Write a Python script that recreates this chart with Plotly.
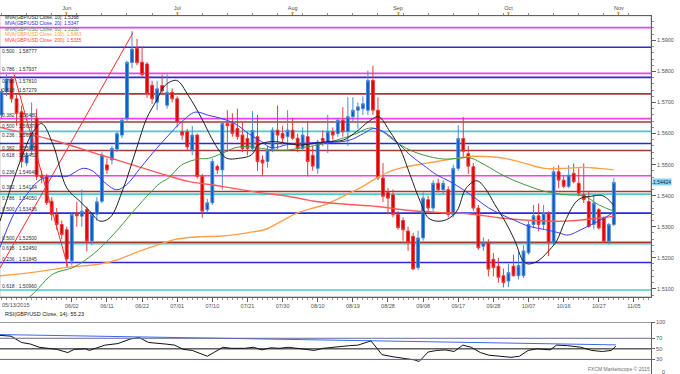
import plotly.graph_objects as go

# ---------------- data ----------------
bar_idx = list(range(123))
opens = [1.5660,1.5735,1.5775,1.5712,1.5670,1.5505,1.5545,1.5650,1.5465,1.5462,
         1.5382,1.5340,1.5307,1.5290,1.5190,1.5345,1.5334,1.5355,1.5254,1.5340,
         1.5382,1.5499,1.5515,1.5550,1.5595,1.5648,1.5829,1.5875,1.5830,1.5824,
         1.5755,1.5701,1.5755,1.5691,1.5733,1.5712,1.5606,1.5606,1.5547,1.5595,
         1.5462,1.5355,1.5377,1.5494,1.5483,1.5632,1.5632,1.5616,1.5595,1.5584,
         1.5552,1.5590,1.5515,1.5510,1.5552,1.5611,1.5600,1.5590,1.5611,1.5585,
         1.5552,1.5590,1.5530,1.5488,1.5584,1.5574,1.5606,1.5600,1.5643,1.5606,
         1.5654,1.5675,1.5680,1.5675,1.5771,1.5675,1.5457,1.5410,1.5403,1.5339,
         1.5320,1.5286,1.5269,1.5168,1.5264,1.5387,1.5360,1.5440,1.5419,1.5419,
         1.5339,1.5488,1.5584,1.5535,1.5493,1.5360,1.5237,1.5248,1.5195,1.5173,
         1.5142,1.5125,1.5173,1.5142,1.5142,1.5216,1.5307,1.5335,1.5307,1.5344,
         1.5248,1.5477,1.5450,1.5430,1.5472,1.5440,1.5403,1.5381,1.5307,1.5355,
         1.5328,1.5253,1.5307]
highs = [1.5745,1.5790,1.5785,1.5725,1.5690,1.5540,1.5700,1.5680,1.5480,1.5470,
         1.5395,1.5360,1.5320,1.5300,1.5345,1.5380,1.5420,1.5365,1.5345,1.5395,
         1.5540,1.5520,1.5560,1.5605,1.5650,1.5835,1.5930,1.5905,1.5880,1.5830,
         1.5770,1.5770,1.5790,1.5790,1.5745,1.5720,1.5640,1.5615,1.5625,1.5600,
         1.5470,1.5390,1.5520,1.5500,1.5640,1.5675,1.5665,1.5680,1.5640,1.5605,
         1.5672,1.5660,1.5530,1.5560,1.5620,1.5690,1.5625,1.5675,1.5650,1.5600,
         1.5620,1.5640,1.5560,1.5580,1.5610,1.5660,1.5620,1.5650,1.5685,1.5717,
         1.5717,1.5700,1.5720,1.5803,1.5818,1.5717,1.5505,1.5425,1.5420,1.5350,
         1.5330,1.5300,1.5280,1.5287,1.5410,1.5400,1.5450,1.5455,1.5450,1.5430,
         1.5500,1.5627,1.5653,1.5560,1.5505,1.5370,1.5265,1.5260,1.5215,1.5200,
         1.5165,1.5180,1.5210,1.5220,1.5240,1.5318,1.5370,1.5375,1.5370,1.5350,
         1.5493,1.5498,1.5466,1.5498,1.5504,1.5488,1.5504,1.5413,1.5403,1.5360,
         1.5333,1.5312,1.5456]
lows = [1.5650,1.5720,1.5700,1.5625,1.5490,1.5495,1.5530,1.5450,1.5440,1.5370,
        1.5320,1.5290,1.5260,1.5170,1.5175,1.5300,1.5300,1.5220,1.5240,1.5320,
        1.5375,1.5470,1.5500,1.5540,1.5585,1.5640,1.5810,1.5820,1.5780,1.5715,
        1.5695,1.5675,1.5725,1.5680,1.5700,1.5620,1.5580,1.5545,1.5530,1.5455,
        1.5329,1.5345,1.5370,1.5470,1.5420,1.5540,1.5590,1.5580,1.5540,1.5530,
        1.5540,1.5480,1.5462,1.5490,1.5540,1.5550,1.5565,1.5550,1.5580,1.5540,
        1.5545,1.5462,1.5480,1.5470,1.5560,1.5537,1.5580,1.5590,1.5590,1.5560,
        1.5640,1.5615,1.5660,1.5660,1.5660,1.5450,1.5380,1.5340,1.5330,1.5290,
        1.5255,1.5222,1.5160,1.5160,1.5255,1.5345,1.5350,1.5410,1.5405,1.5330,
        1.5330,1.5480,1.5520,1.5470,1.5350,1.5225,1.5222,1.5140,1.5140,1.5120,
        1.5105,1.5105,1.5140,1.5130,1.5135,1.5210,1.5295,1.5285,1.5290,1.5205,
        1.5240,1.5424,1.5424,1.5424,1.5440,1.5398,1.5376,1.5296,1.5291,1.5291,
        1.5248,1.5243,1.5301]
closes = [1.5735,1.5775,1.5712,1.5665,1.5510,1.5530,1.5600,1.5462,1.5458,1.5377,
          1.5339,1.5307,1.5275,1.5196,1.5339,1.5335,1.5350,1.5254,1.5339,1.5380,
          1.5531,1.5483,1.5552,1.5600,1.5643,1.5829,1.5872,1.5828,1.5790,1.5728,
          1.5712,1.5744,1.5738,1.5733,1.5712,1.5637,1.5595,1.5557,1.5595,1.5462,
          1.5350,1.5377,1.5510,1.5483,1.5632,1.5625,1.5600,1.5590,1.5552,1.5552,
          1.5610,1.5510,1.5505,1.5547,1.5611,1.5595,1.5585,1.5611,1.5585,1.5552,
          1.5595,1.5510,1.5495,1.5573,1.5574,1.5606,1.5595,1.5643,1.5606,1.5654,
          1.5675,1.5686,1.5696,1.5771,1.5675,1.5457,1.5398,1.5392,1.5339,1.5297,
          1.5290,1.5249,1.5164,1.5264,1.5392,1.5360,1.5440,1.5419,1.5440,1.5339,
          1.5488,1.5584,1.5543,1.5495,1.5360,1.5232,1.5248,1.5163,1.5168,1.5137,
          1.5120,1.5152,1.5142,1.5175,1.5222,1.5307,1.5335,1.5307,1.5344,1.5248,
          1.5477,1.5450,1.5430,1.5466,1.5445,1.5408,1.5387,1.5301,1.5376,1.5296,
          1.5253,1.5307,1.54424]

# moving averages (bar position, value)
ma10_x = [-0.3,3.7,6.3,8,10.3,13,15.6,17.6,19.6,21.6,24.3,26.9,28.9,30.9,32.6,34.9,37.2,39.9,
          41.9,43.5,44.9,47.2,49.8,51.2,53.8,57.1,59.1,62.3,64.8,68.1,70.7,73.1,75.1,77.4,
          79.4,81.4,83.4,85.0,86.7,88.7,90.7,92.6,94.7,96.3,98.3,100.3,102.3,103.9,104.9,
          106.9,109.6,110.6,112.3,114.3,115.6,117.5,119.5,120.5,122]
ma10_y = [1.5318,1.5510,1.5606,1.5632,1.5563,1.5425,1.5382,1.5350,1.5318,1.5329,1.5425,1.5552,
          1.5648,1.5707,1.5755,1.5771,1.5723,1.5648,1.5584,1.5542,1.5520,1.5520,1.5531,1.5563,
          1.5574,1.5568,1.5563,1.5568,1.5574,1.5579,1.5606,1.5638,1.5654,1.5606,1.5552,1.5467,
          1.5382,1.5329,1.5318,1.5323,1.5350,1.5425,1.5448,1.5425,1.5371,1.5318,1.5254,1.5190,
          1.5180,1.5190,1.5233,1.5254,1.5318,1.5377,1.5393,1.5398,1.5401,1.5393,1.5368]
ma20_x = [-0.3,2.4,5,7.7,10.3,13,16.3,18.3,20.3,22.9,24.9,27.6,30.9,33.3,35.9,38.6,41.2,43.9,
          46.5,49.2,51.8,53.8,57.1,59.8,62.3,65.4,69.4,72.1,74.1,76.1,78.7,81.4,84.0,86.7,
          89.3,92.0,94.3,97,99.6,102.3,104.9,108.2,110.9,112.9,114.9,117.5,120.2,122]
ma20_y = [1.5233,1.5339,1.5403,1.5451,1.5462,1.5462,1.5488,1.5478,1.5446,1.5419,1.5435,1.5488,
          1.5552,1.5595,1.5638,1.5669,1.5659,1.5648,1.5632,1.5600,1.5574,1.5554,1.5565,1.5568,
          1.5571,1.5571,1.5579,1.5600,1.5616,1.5606,1.5574,1.5531,1.5499,1.5467,1.5446,1.5419,
          1.5393,1.5361,1.5339,1.5320,1.5302,1.5291,1.5281,1.5273,1.5286,1.5307,1.5329,1.5347]
ma50_x = [3.0,6.3,10.3,14.3,18.3,22.3,26.3,29.6,31.6,33.3,35.9,39.2,41.2,43.9,46.5,49.2,51.8,
          54.5,57.1,59.8,62.3,66.8,70.7,73.4,75.4,78.1,80.7,84.0,88.0,90.7,93.3,96.3,100.3,
          104.3,108.2,112.3,116.2,118.9,122]
ma50_y = [1.5040,1.5084,1.5148,1.5169,1.5212,1.5275,1.5350,1.5409,1.5440,1.5457,1.5499,1.5518,
          1.5520,1.5536,1.5554,1.5558,1.5552,1.5547,1.5547,1.5554,1.5561,1.5579,1.5600,1.5618,
          1.5611,1.5579,1.5552,1.5531,1.5518,1.5520,1.5522,1.5499,1.5462,1.5435,1.5414,1.5403,
          1.5398,1.5371,1.5350]
ma100_x = [-0.3,6.3,13,19.6,22.9,27.6,31.6,34.6,38.6,43.9,49.2,52.5,55.8,59.1,62.3,64.8,68.1,
           71.4,74.8,77.4,80.1,83.4,86.7,90.7,93.3,96.3,100.3,104.3,108.2,112.3,116.2,118.9,122]
ma100_y = [1.5142,1.5153,1.5169,1.5180,1.5192,1.5222,1.5244,1.5259,1.5267,1.5270,1.5281,1.5291,
           1.5318,1.5345,1.5361,1.5373,1.5398,1.5425,1.5457,1.5478,1.5491,1.5501,1.5510,1.5520,
           1.5526,1.5526,1.5520,1.5504,1.5488,1.5488,1.5491,1.5488,1.5483]
ma200_x = [-0.3,10,20,31.6,37.2,43.9,50.5,57.1,62.3,68.1,74.8,81.4,88,93.3,99,105.6,112.3,118.9,122]
ma200_y = [1.5620,1.5580,1.5530,1.5472,1.5446,1.5430,1.5412,1.5398,1.5382,1.5373,1.5365,1.5352,
           1.5345,1.5341,1.5329,1.5320,1.5318,1.5327,1.5334]

ma_names = ["MVA(GBP/USD Close, 10): 1.5368", "MVA(GBP/USD Close, 20): 1.5347",
            "MVA(GBP/USD Close, 50): 1.5350", "MVA(GBP/USD Close, 100): 1.5463",
            "MVA(GBP/USD Close, 200): 1.5335"]

# drawn trend lines (bar position, price)
zig1_x = [-0.3, 26.2]
zig1_y = [1.5167, 1.5925]
zig2_x = [2.5, 13.2]
zig2_y = [1.5790, 1.5172]

# Fibonacci horizontal levels
fib_prices = [1.59410, 1.58777, 1.57937, 1.57810, 1.57279, 1.56480, 1.56370, 1.56071,
              1.55679, 1.55453, 1.54640, 1.54134, 1.54050, 1.53436, 1.52500, 1.52450,
              1.51845, 1.50960]
fib_kind = ["m", "b", "m", "b", "r", "m", "r", "t", "b", "r", "m", "r", "t", "b", "r", "t", "b", "t"]
fib_text = ["", "0.500 : 1.58777", "0.786 : 1.57937", "0.786 : 1.57810", "0.618 : 1.57279",
            "0.382 : 1.56480", "0.500 : 1.56370", "0.236 : 1.56071", "0.382 : 1.55679",
            "0.618 : 1.55453", "0.236 : 1.54640", "0.382 : 1.54134", "0.786 : 1.54050",
            "0.500 : 1.53436", "0.500 : 1.52500", "0.618 : 1.52450", "0.236 : 1.51845",
            "0.618 : 1.50960"]

# axes labels
date_idx = [0, 14, 21, 28, 35, 42, 49, 56, 63, 70, 77, 84, 91, 98, 105, 112, 119, 126]
date_txt = ["05/13/2015", "06/02", "06/11", "06/22", "07/01", "07/10", "07/21", "07/30",
            "08/10", "08/19", "08/28", "09/08", "09/17", "09/28", "10/07", "10/16", "10/27", "11/05"]
month_idx = [13, 35, 58, 79, 101, 123]
month_txt = ["Jun", "Jul", "Aug", "Sep", "Oct", "Nov"]
last_price = 1.54424

# RSI
rsi_x = [-0.3,1.9,4.0,5.8,7.5,9.3,11.0,13.2,14.5,16.7,17.5,20.6,23.2,25.8,27.5,29.3,31.0,32.8,
         34.5,36.2,38.0,39.7,41.0,42.3,44.1,45.8,48.4,50.2,51.9,53.6,55.4,57.1,58.9,60.6,62.3,
         64.1,65.8,67.6,69.3,71.0,72.8,73.6,74.9,75.8,78.0,80.6,82.3,83.2,85.0,86.7,88.4,90.2,
         91.9,93.6,95.4,97.1,99.7,101.5,103.2,104.9,106.7,109.3,110.6,112.8,115.4,117.6,119.7,
         121.5,122.4]
rsi_y = [75.5,74,62,59,53,51,49,43,49,50,47,57,60,69,71,62,61,59,57,49,47,41,36,43,53,51,51,
         53,48,52,51,53,51,50,47,51,53,55,56,57,62,65,50,39,35,32,29,26,44,47,48,45,57,53,43,38,
         35,34,36,47,50,48,57,56,53,47,45,47,55.2]
rsi_trend_x = [-0.3, 122.4]
rsi_trend_y = [77, 57.5]
rsi_levels = [70, 50, 30]
rsi_ticks = [30, 50, 70, 100]
rsi_title = "RSI(GBP/USD Close, 14): 55.23"

# ---------------- styling ----------------
W, H = 680, 374
FONT = "Liberation Sans"
XR = [-0.3, 129.4]
YR = [1.50748, 1.59789]
XD = [0, 651 / W]
YD_MAIN = [1 - 296 / H, 1 - 13 / H]
YD_RSI = [0.0, 1 - 322 / H]
RSI_R = [2.4, 100]
col = {"m": "#f040f0", "b": "#2a2ad8", "r": "#a33a3a", "t": "#48cccc"}
# labels placed under their line (to keep them apart from neighbours)
below = {1.58777, 1.57810, 1.56370, 1.56071, 1.55679, 1.55453, 1.54050, 1.52450}

fig = go.Figure()

# fib levels
for p, k in zip(fib_prices, fib_kind):
    fig.add_shape(type="line", xref="x", yref="y", x0=XR[0], x1=XR[1], y0=p, y1=p,
                  line=dict(color=col[k], width=1.6), layer="below")
for p, t in zip(fib_prices, fib_text):
    if t:
        under = p in below
        fig.add_annotation(x=XR[0], y=p, xref="x", yref="y", text=t, showarrow=False,
                           xanchor="left", yanchor="top" if under else "bottom",
                           yshift=1 if under else -1,
                           font=dict(family=FONT, size=5, color="#303030"))

# drawn lines
fig.add_trace(go.Scatter(x=zig1_x, y=zig1_y, mode="lines", line=dict(color="#ff2a2a", width=1),
                         hoverinfo="skip", showlegend=False))
fig.add_trace(go.Scatter(x=zig2_x, y=zig2_y, mode="lines", line=dict(color="#ff2a2a", width=1),
                         hoverinfo="skip", showlegend=False))

# moving averages
for xs, ys, c, w in [(ma100_x, ma100_y, "#ffa04a", 1.4), (ma200_x, ma200_y, "#ff5a5a", 1.4),
                     (ma50_x, ma50_y, "#3c9a3c", 1), (ma20_x, ma20_y, "#3c3cf4", 1),
                     (ma10_x, ma10_y, "#202020", 1)]:
    fig.add_trace(go.Scatter(x=xs, y=ys, mode="lines", line=dict(color=c, width=w, shape="spline"),
                             hoverinfo="skip", showlegend=False))

fig.add_trace(go.Candlestick(
    x=bar_idx, open=opens, high=highs, low=lows, close=closes,
    increasing=dict(line=dict(color="#4a8ad8", width=1), fillcolor="#0a5cc4"),
    decreasing=dict(line=dict(color="#e83a3a", width=1), fillcolor="#e00000"),
    whiskerwidth=0, showlegend=False, hoverinfo="skip"))

# top axis dummy trace
fig.add_trace(go.Scatter(x=[XR[0]], y=[YR[0]], xaxis="x2", yaxis="y", mode="markers",
                         marker=dict(size=0.1, opacity=0), showlegend=False, hoverinfo="skip"))

# RSI
for lv, c in zip(rsi_levels, ["#6a6a9a", "#111111", "#5a5ab8"]):
    fig.add_shape(type="line", xref="x3", yref="y3", x0=XR[0], x1=XR[1], y0=lv, y1=lv,
                  line=dict(color=c, width=1))
fig.add_shape(type="line", xref="x3", yref="y3", x0=XR[0], x1=XR[1], y0=100, y1=100,
              line=dict(color="#202020", width=1))
fig.add_trace(go.Scatter(x=rsi_trend_x, y=rsi_trend_y, xaxis="x3", yaxis="y3", mode="lines",
                         line=dict(color="#3a6ae8", width=1), showlegend=False, hoverinfo="skip"))
fig.add_trace(go.Scatter(x=rsi_x, y=rsi_y, xaxis="x3", yaxis="y3", mode="lines",
                         line=dict(color="#111111", width=1), showlegend=False, hoverinfo="skip"))

# MA legend texts
for k, (t, c) in enumerate(zip(ma_names, ["#202020", "#2a2ad8", "#3c9a3c", "#ff9a3a", "#ff4040"])):
    fig.add_annotation(x=3 / W, y=1 - (15 + 5.7 * k) / H, xref="paper", yref="paper", text=t,
                       showarrow=False, xanchor="left", yanchor="middle",
                       font=dict(family=FONT, size=4.8, color=c))

# first date label (left aligned)
fig.add_annotation(x=0, y=1 - 304 / H, xref="paper", yref="paper", text=date_txt[0],
                   showarrow=False, xanchor="left", yanchor="middle",
                   font=dict(family=FONT, size=5.5, color="#505050"))
# month markers
for mi in month_idx:
    fig.add_annotation(x=mi, y=1 - 10 / H, xref="x", yref="paper", text="▼", showarrow=False,
                       yanchor="middle", font=dict(size=5, color="#ff9a1a"))

# price box
fig.add_annotation(x=652 / W, y=last_price, xref="paper", yref="y", text=f"{last_price:.5f}",
                   showarrow=False, xanchor="left", yanchor="middle", bgcolor="#86d6f6",
                   borderpad=0, font=dict(family=FONT, size=5, color="#1a2a40"))
fig.add_annotation(x=3 / W, y=1 - 314 / H, xref="paper", yref="paper", text=rsi_title,
                   showarrow=False, xanchor="left", yanchor="middle",
                   font=dict(family=FONT, size=5.5, color="#202020"))
fig.add_annotation(x=660 / W, y=1 - 371.5 / H, xref="paper", yref="paper", text="0",
                   showarrow=False, xanchor="left", yanchor="middle",
                   font=dict(family=FONT, size=5.5, color="#505050"))
fig.add_annotation(x=652 / W, y=1 - 369 / H, xref="paper", yref="paper",
                   text="FXCM Marketscope \u00a9 2015", showarrow=False, xanchor="right",
                   yanchor="middle", font=dict(family=FONT, size=5, color="#707070"))

# frames
fig.add_shape(type="rect", xref="paper", yref="paper", x0=XD[0], x1=XD[1], y0=YD_MAIN[0],
              y1=YD_MAIN[1], line=dict(color="#c8c8c8", width=1), layer="below")

tickfont = dict(family=FONT, size=5.5, color="#505050")
fig.update_layout(
    width=W, height=H, margin=dict(l=0, r=0, t=0, b=0), boxgap=0.2,
    paper_bgcolor="white", plot_bgcolor="white", showlegend=False,
    xaxis=dict(domain=XD, range=XR, anchor="y", showgrid=False, zeroline=False,
               tickmode="array", tickvals=date_idx[1:], ticktext=date_txt[1:],
               ticks="outside", ticklen=4, tickcolor="#606060", tickfont=tickfont,
               showline=True, linecolor="#606060", linewidth=1,
               minor=dict(tickmode="linear", tick0=0, dtick=1, ticks="outside", ticklen=2,
                          tickcolor="#909090"),
               rangeslider=dict(visible=False), fixedrange=True),
    xaxis2=dict(domain=XD, range=XR, overlaying="x", side="top", anchor="y", showgrid=False,
                zeroline=False, tickmode="array", tickvals=month_idx, ticktext=month_txt,
                ticks="outside", ticklen=3, tickcolor="#606060", tickfont=tickfont,
                showline=True, linecolor="#606060", linewidth=1,
                minor=dict(tickmode="linear", tick0=0, dtick=5, ticks="outside", ticklen=2,
                           tickcolor="#909090")),
    yaxis=dict(domain=YD_MAIN, range=YR, side="right", anchor="x", showgrid=False,
               zeroline=False, tickmode="linear", tick0=1.51, dtick=0.01, tickformat=".4f",
               ticks="outside", ticklen=4, tickcolor="#606060", tickfont=tickfont,
               showline=True, linecolor="#606060",
               minor=dict(tickmode="linear", dtick=0.002, ticks="outside", ticklen=2,
                          tickcolor="#909090")),
    xaxis3=dict(domain=XD, range=XR, anchor="y3", showgrid=False, zeroline=False,
                showticklabels=False, ticks="", showline=False),
    yaxis3=dict(domain=YD_RSI, range=RSI_R, side="right", anchor="x3", showgrid=False,
                zeroline=False, tickmode="array", tickvals=rsi_ticks,
                ticks="outside", ticklen=3, tickcolor="#606060", tickfont=tickfont,
                showline=True, linecolor="#606060", mirror=False),
)

fig.write_html("out.html")
